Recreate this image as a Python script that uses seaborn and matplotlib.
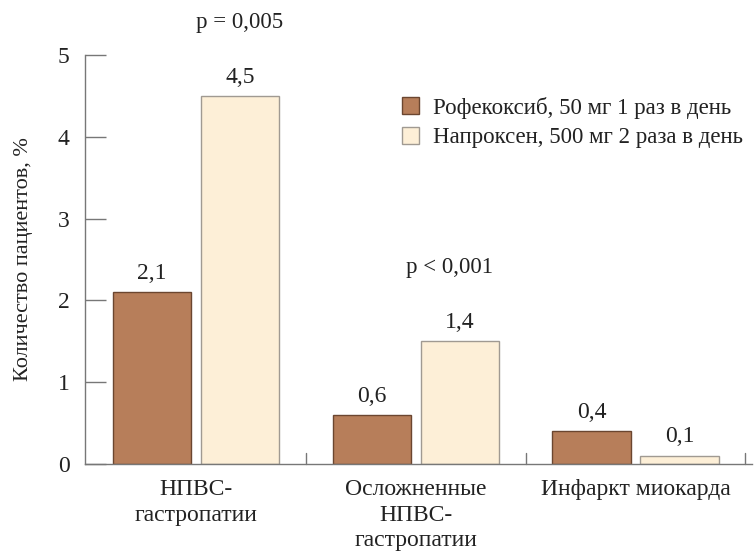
import matplotlib
matplotlib.use("Agg")
import matplotlib.pyplot as plt
import seaborn as sns
import pandas as pd

categories = ["НПВС-\nгастропатии", "Осложненные\nНПВС-\nгастропатии", "Инфаркт миокарда"]
series_names = ["Рофекоксиб, 50 мг 1 раз в день", "Напроксен, 500 мг 2 раза в день"]
rofecoxib = [2.1, 0.6, 0.4]
naproxen = [4.5, 1.5, 0.1]
rofecoxib_labels = ["2,1", "0,6", "0,4"]
naproxen_labels = ["4,5", "1,4", "0,1"]
y_ticks = [0, 1, 2, 3, 4, 5]
p_texts = ["p = 0,005", "p < 0,001"]

sns.set_theme(style="white")
plt.rcParams["font.family"] = ["Liberation Serif", "DejaVu Serif"]

df = pd.DataFrame({
    "cat": categories * 2,
    "series": [series_names[0]] * 3 + [series_names[1]] * 3,
    "val": rofecoxib + naproxen,
})

colors = ["#B77E5A", "#FDEFD7"]
edges = ["#6B4630", "#A09A92"]
txt = "#222222"

fig = plt.figure(figsize=(7.56, 5.52), dpi=100)
ax = fig.add_axes([0.1124, 0.1594, 0.9947 - 0.1124, 0.9004 - 0.1594])
sns.barplot(data=df, x="cat", y="val", hue="series", palette=colors, saturation=1,
            width=0.8, gap=0.11, ax=ax, legend=True)

for i, cont in enumerate(ax.containers):
    for p in cont.patches:
        p.set_edgecolor(edges[i])
        p.set_linewidth(1.0)
    labs = rofecoxib_labels if i == 0 else naproxen_labels
    ax.bar_label(cont, labels=labs, padding=6, fontsize=17, color=txt)

ax.set_ylim(0, 5)
ax.set_xlim(-0.505, 2.53)
ax.set_yticks(y_ticks)
ax.set_yticklabels([str(t) for t in y_ticks], fontsize=17, color=txt)
ax.tick_params(axis="y", direction="in", length=15, width=1, color="#777777", pad=11, left=True)

ax.set_xticks([0, 1, 2])
ax.set_xticklabels(categories, fontsize=17, color=txt, linespacing=1.28)
ax.tick_params(axis="x", length=0, pad=11)
for xb in [0.5, 1.5, 2.5]:
    ax.plot([xb, xb], [0, 0.13], color="#777777", lw=1, clip_on=False)

for s in ["top", "right"]:
    ax.spines[s].set_visible(False)
for s in ["left", "bottom"]:
    ax.spines[s].set_color("#777777")
    ax.spines[s].set_linewidth(1)

ax.set_xlabel("")
ax.set_ylabel("Количество пациентов, %", fontsize=16, color=txt, labelpad=18)

ax.text(0.2, 5.4, p_texts[0], ha="center", va="center", fontsize=16.5, color=txt, clip_on=False)
ax.text(1.155, 2.4, p_texts[1], ha="center", va="center", fontsize=16.5, color=txt)

leg = ax.legend(loc="upper left", bbox_to_anchor=(0.462, 0.92), frameon=False,
                fontsize=16.5, handlelength=0.75, handleheight=0.75, handletextpad=0.6,
                labelspacing=0.35, borderaxespad=0)
for h, ec in zip(leg.legend_handles, edges):
    h.set_edgecolor(ec)
    h.set_linewidth(1.0)
for t in leg.get_texts():
    t.set_color(txt)

fig.savefig("out.png", dpi=100)
